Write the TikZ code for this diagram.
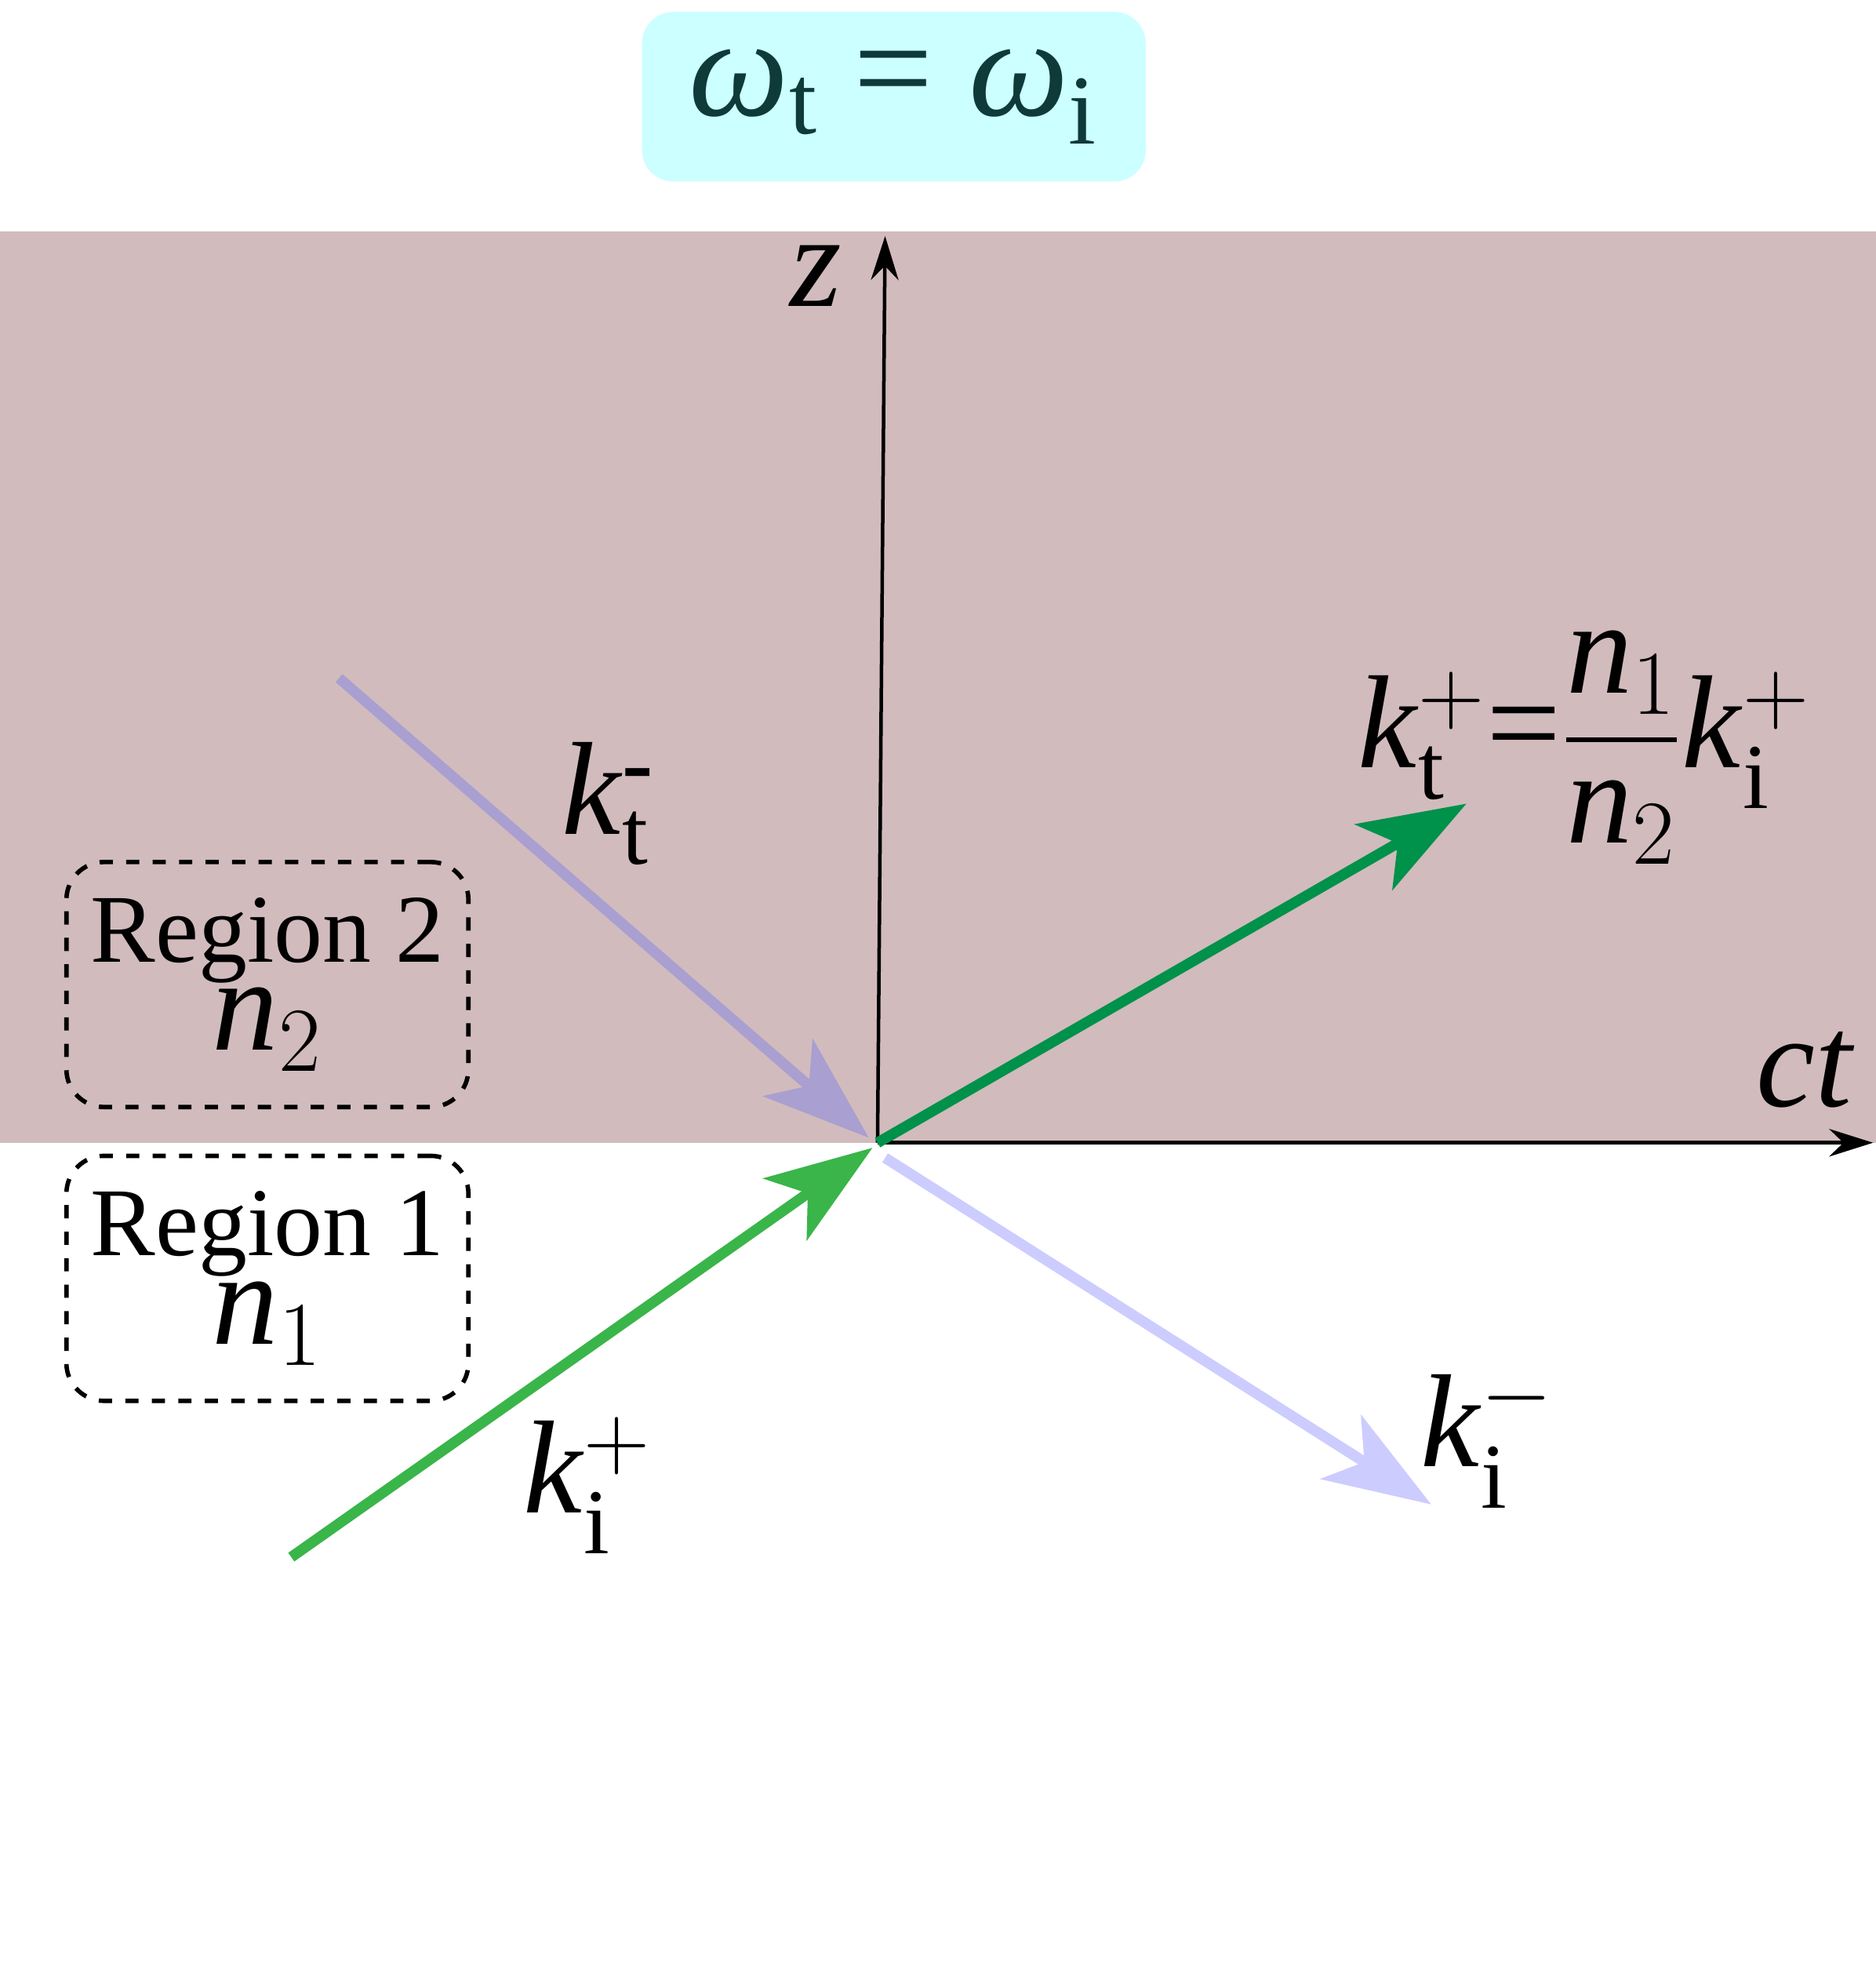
\documentclass[tikz,border=0pt]{standalone}
\usepackage{amsmath}
\usepackage{fontspec}
\setmainfont{Liberation Serif}
\usetikzlibrary{arrows.meta}
\definecolor{bgshade}{HTML}{D1BBBD}
\definecolor{cyanbox}{HTML}{CCFFFF}
\definecolor{tealtxt}{HTML}{0F3A3A}
\definecolor{darkgreen}{HTML}{00914A}
\definecolor{lightgreen}{HTML}{3AB54A}
\definecolor{lav}{HTML}{A99FD0}
\definecolor{palelav}{HTML}{CCCCFF}
\tikzset{
  wave/.style={line width=2.4pt,-{Stealth[length=0.85cm,width=0.6cm,inset=0.22cm]}},
  axis/.style={line width=0.8pt,-{Stealth[length=0.35cm,width=0.22cm]}},
  regbox/.style={draw,dashed,line width=1pt,rounded corners=0.3cm,minimum width=3.2cm,minimum height=1.95cm,align=center,font=\fontsize{22}{24}\selectfont},
  lbl/.style={font=\fontsize{30}{32}\selectfont,inner sep=0pt}
}
\newcommand{\ki}[1]{\textit{#1}}
\begin{document}
\begin{tikzpicture}[x=0.01cm,y=-0.01cm]
\useasboundingbox (0,0) rectangle (1494,1568);
\fill[bgshade] (0,184) rectangle (1494,910);
\node[fill=cyanbox,rounded corners=0.25cm,minimum width=4.01cm,minimum height=1.35cm,text=tealtxt,font=\fontsize{32}{34}\selectfont] (top) at (712,77) {\ki{ω}$_{\mathrm{t}}$ = \ki{ω}$_{\mathrm{i}}$};
\coordinate (O) at (699,910);
\coordinate (zt) at (705,188);
\coordinate (ce) at (1492,910);
\draw[axis] (O) -- (zt);
\draw[axis] (O) -- (ce);
\node[lbl] (zl) at (650,220) {\ki{z}};
\node[lbl] (ctl) at (1438,852) {\ki{ct}};
\coordinate (a1) at (270,540); \coordinate (a1e) at (692,906);
\draw[wave,lav] (a1) -- (a1e);
\coordinate (a2e) at (1168,640);
\draw[wave,darkgreen] (O) -- (a2e);
\coordinate (a3) at (232,1240); \coordinate (a3e) at (695,914);
\draw[wave,lightgreen] (a3) -- (a3e);
\coordinate (a4) at (705,922); \coordinate (a4e) at (1140,1198);
\draw[wave,palelav] (a4) -- (a4e);
\node[lbl] (ktm) at (485,640) {\ki{k}$_{\mathrm{t}}^{\textbf{-}}$};
\node[lbl] (ktp) at (1262,595) {\ki{k}$_{\mathrm{t}}^{+}${=}$\dfrac{\textit{n}_1}{\textit{n}_2}$\ki{k}$_{\mathrm{i}}^{+}$};
\node[lbl] (kip) at (468,1183) {\ki{k}$_{\mathrm{i}}^{+}$};
\node[lbl] (kim) at (1185,1145) {\ki{k}$_{\mathrm{i}}^{-}$};
\node[regbox] (r2) at (213,784) {Region 2\\[-4pt]{\fontsize{30}{32}\selectfont\ki{n}$_2$}};
\node[regbox] (r1) at (213,1018) {Region 1\\[-4pt]{\fontsize{30}{32}\selectfont\ki{n}$_1$}};
\end{tikzpicture}
\end{document}
